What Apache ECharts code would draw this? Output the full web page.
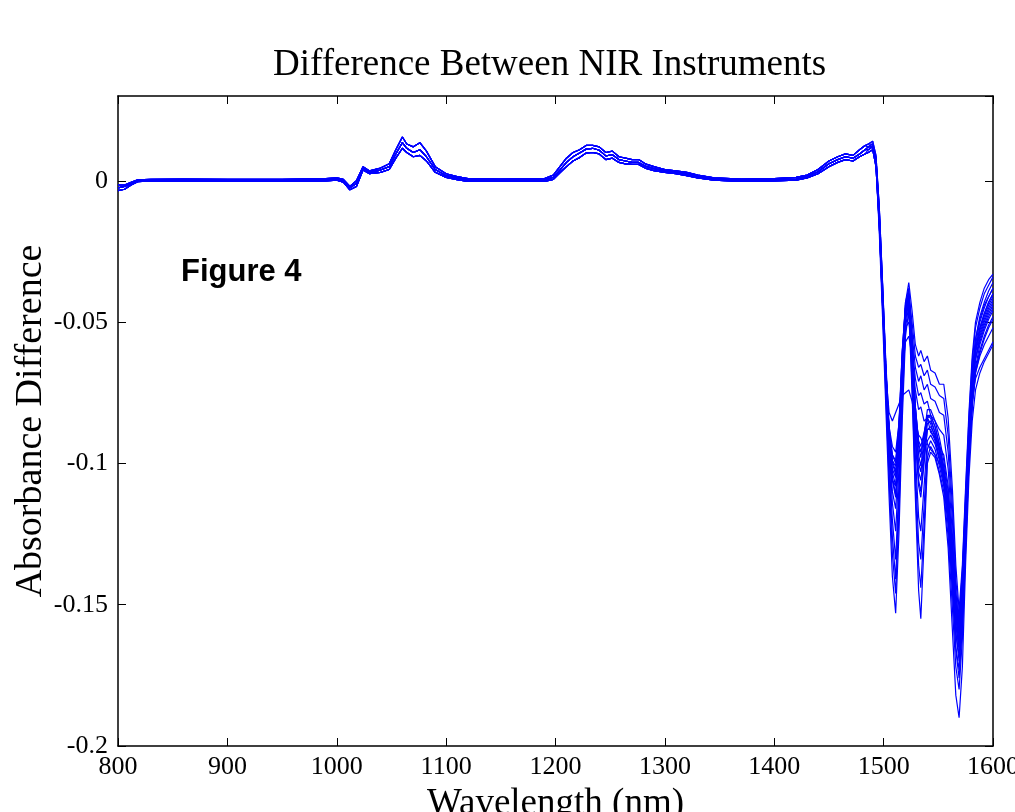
<!DOCTYPE html>
<html>
<head>
<meta charset="utf-8">
<title>Difference Between NIR Instruments</title>
<script src="https://cdn.jsdelivr.net/npm/echarts@6/dist/echarts.min.js"></script>
<style>
  html, body { margin: 0; padding: 0; background: #fff; }
  #chart { width: 1015px; height: 812px; }
</style>
</head>
<body>
<div id="chart"></div>
<script>
// wavelengths (nm) of the flat part, shared by all spectra
var leftW = [800, 806, 812, 818, 830, 860, 900, 950, 990, 1000, 1006, 1012, 1018, 1024, 1030,
  1040, 1048, 1054, 1060, 1064, 1070, 1076, 1082, 1090, 1100, 1110, 1120, 1150, 1190, 1198,
  1204, 1210, 1216, 1222, 1228, 1234, 1240, 1246, 1252, 1258, 1264, 1270, 1276, 1282, 1290,
  1300, 1310, 1320, 1330, 1345, 1370, 1400, 1420, 1430, 1440, 1450, 1458, 1465, 1472, 1478, 1483];

// three readings of the flat part: upper, middle, lower edge of the band
var baseUpper = [-0.0015, -0.0015, -0.0005, 0.0003, 0.0005, 0.0006, 0.0005, 0.0005, 0.0008, 0.001,
  0.0005, -0.002, 0, 0.005, 0.0035, 0.0045, 0.006, 0.011, 0.0155, 0.013,
  0.012, 0.0135, 0.0105, 0.005, 0.0025, 0.0015, 0.0008, 0.0006, 0.0008, 0.002,
  0.005, 0.008, 0.010, 0.011, 0.0125, 0.0125, 0.012, 0.010, 0.0105, 0.0085,
  0.008, 0.0075, 0.0075, 0.006, 0.005, 0.004, 0.0035, 0.003, 0.002, 0.001,
  0.0006, 0.0008, 0.0012, 0.002, 0.004, 0.007, 0.0085, 0.0095, 0.009, 0.011, 0.0125];
var baseMid = [-0.0025, -0.002, -0.001, 0, 0.0002, 0.0002, 0.0002, 0.0001, 0.0004, 0.0006,
  0, -0.0025, -0.001, 0.0045, 0.003, 0.0038, 0.005, 0.0095, 0.0135, 0.0115,
  0.010, 0.011, 0.0085, 0.004, 0.0018, 0.001, 0.0003, 0.0002, 0.0003, 0.0012,
  0.0038, 0.0065, 0.0085, 0.0098, 0.0112, 0.0115, 0.0108, 0.0088, 0.0092, 0.0075,
  0.007, 0.0065, 0.0065, 0.0052, 0.0043, 0.0035, 0.003, 0.0024, 0.0015, 0.0006,
  0.0002, 0.0003, 0.0006, 0.0015, 0.0032, 0.006, 0.0075, 0.0085, 0.008, 0.0095, 0.011];
var baseLower = [-0.0035, -0.003, -0.0015, -0.0003, 0, -0.0002, -0.0002, -0.0002, 0, 0.0002,
  -0.0005, -0.0032, -0.002, 0.0038, 0.0025, 0.003, 0.004, 0.008, 0.0115, 0.010,
  0.0085, 0.009, 0.007, 0.003, 0.0012, 0.0004, -0.0002, -0.0002, -0.0002, 0.0005,
  0.0028, 0.005, 0.007, 0.0082, 0.0098, 0.010, 0.0095, 0.0075, 0.008, 0.0065,
  0.006, 0.0058, 0.0058, 0.0045, 0.0036, 0.003, 0.0025, 0.0018, 0.001, 0.0002,
  -0.0002, 0, 0.0002, 0.001, 0.0025, 0.005, 0.0065, 0.0075, 0.007, 0.0085, 0.0095];

// wavelengths (nm) of the water band region
var tailW = [1486, 1490, 1493, 1496, 1499, 1502, 1505, 1508, 1511, 1514, 1517, 1520,
  1523, 1526, 1529, 1532, 1534, 1537, 1540, 1543, 1547, 1551, 1555, 1559,
  1563, 1566, 1569, 1572, 1575, 1578, 1581, 1584, 1588, 1592, 1596, 1600];

var tail01 = [0.010, 0.011, 0.006, -0.018, -0.048, -0.080, -0.112, -0.140, -0.153, -0.125, -0.085, -0.055, -0.046, -0.075, -0.112, -0.145, -0.155, -0.128, -0.100, -0.096, -0.098, -0.104, -0.112, -0.130, -0.160, -0.182, -0.190, -0.172, -0.135, -0.105, -0.085, -0.074, -0.068, -0.064, -0.061, -0.058];
var tail02 = [0.011, 0.012, 0.007, -0.015, -0.045, -0.076, -0.106, -0.132, -0.146, -0.118, -0.080, -0.052, -0.044, -0.072, -0.108, -0.136, -0.144, -0.122, -0.098, -0.094, -0.097, -0.103, -0.110, -0.126, -0.152, -0.172, -0.180, -0.162, -0.130, -0.100, -0.080, -0.068, -0.061, -0.056, -0.052, -0.049];
var tail03 = [0.012, 0.012, 0.007, -0.014, -0.043, -0.073, -0.102, -0.126, -0.141, -0.112, -0.076, -0.050, -0.042, -0.068, -0.102, -0.128, -0.134, -0.115, -0.095, -0.092, -0.095, -0.101, -0.108, -0.122, -0.146, -0.165, -0.173, -0.155, -0.126, -0.098, -0.078, -0.066, -0.058, -0.053, -0.049, -0.046];
var tail04 = [0.012, 0.013, 0.008, -0.012, -0.040, -0.070, -0.098, -0.120, -0.134, -0.108, -0.072, -0.048, -0.041, -0.065, -0.097, -0.119, -0.124, -0.108, -0.092, -0.090, -0.093, -0.099, -0.106, -0.118, -0.141, -0.160, -0.168, -0.150, -0.122, -0.095, -0.075, -0.063, -0.055, -0.050, -0.046, -0.043];
var tail05 = [0.013, 0.013, 0.008, -0.011, -0.039, -0.068, -0.094, -0.114, -0.124, -0.102, -0.068, -0.046, -0.040, -0.062, -0.092, -0.108, -0.112, -0.100, -0.088, -0.087, -0.090, -0.096, -0.104, -0.116, -0.138, -0.157, -0.166, -0.148, -0.120, -0.093, -0.072, -0.060, -0.052, -0.047, -0.043, -0.040];
var tail06 = [0.011, 0.012, 0.007, -0.013, -0.041, -0.070, -0.094, -0.110, -0.116, -0.098, -0.068, -0.047, -0.041, -0.060, -0.088, -0.103, -0.106, -0.096, -0.086, -0.085, -0.089, -0.095, -0.103, -0.115, -0.136, -0.155, -0.163, -0.146, -0.118, -0.092, -0.072, -0.061, -0.054, -0.049, -0.045, -0.042];
var tail07 = [0.012, 0.013, 0.008, -0.010, -0.037, -0.066, -0.090, -0.105, -0.111, -0.094, -0.065, -0.045, -0.039, -0.058, -0.085, -0.100, -0.103, -0.094, -0.084, -0.083, -0.087, -0.094, -0.102, -0.114, -0.134, -0.152, -0.161, -0.144, -0.116, -0.090, -0.070, -0.058, -0.050, -0.045, -0.041, -0.038];
var tail08 = [0.010, 0.011, 0.005, -0.016, -0.044, -0.072, -0.094, -0.106, -0.108, -0.092, -0.064, -0.046, -0.042, -0.062, -0.090, -0.106, -0.110, -0.098, -0.088, -0.088, -0.092, -0.098, -0.106, -0.118, -0.138, -0.157, -0.165, -0.150, -0.124, -0.098, -0.078, -0.067, -0.060, -0.055, -0.051, -0.048];
var tail09 = [0.012, 0.012, 0.007, -0.012, -0.040, -0.068, -0.090, -0.102, -0.105, -0.090, -0.063, -0.045, -0.040, -0.057, -0.083, -0.097, -0.101, -0.092, -0.083, -0.083, -0.087, -0.093, -0.101, -0.112, -0.131, -0.149, -0.158, -0.142, -0.115, -0.090, -0.071, -0.060, -0.053, -0.048, -0.044, -0.041];
var tail10 = [0.013, 0.014, 0.009, -0.009, -0.036, -0.064, -0.087, -0.099, -0.103, -0.088, -0.061, -0.043, -0.038, -0.055, -0.080, -0.094, -0.098, -0.090, -0.081, -0.081, -0.085, -0.091, -0.099, -0.110, -0.129, -0.147, -0.156, -0.140, -0.113, -0.088, -0.068, -0.056, -0.048, -0.043, -0.039, -0.036];
var tail11 = [0.011, 0.012, 0.006, -0.013, -0.041, -0.068, -0.089, -0.099, -0.101, -0.087, -0.061, -0.044, -0.040, -0.056, -0.080, -0.093, -0.096, -0.090, -0.083, -0.084, -0.089, -0.096, -0.105, -0.118, -0.140, -0.160, -0.170, -0.152, -0.122, -0.094, -0.074, -0.063, -0.056, -0.051, -0.047, -0.044];
var tail12 = [0.010, 0.011, 0.005, -0.015, -0.043, -0.069, -0.088, -0.097, -0.099, -0.086, -0.060, -0.045, -0.041, -0.057, -0.080, -0.092, -0.094, -0.089, -0.084, -0.086, -0.091, -0.098, -0.107, -0.121, -0.145, -0.166, -0.176, -0.158, -0.128, -0.099, -0.079, -0.068, -0.062, -0.058, -0.055, -0.052];
var tail13 = [0.013, 0.014, 0.009, -0.009, -0.036, -0.065, -0.090, -0.106, -0.112, -0.094, -0.064, -0.043, -0.036, -0.046, -0.058, -0.062, -0.060, -0.064, -0.062, -0.067, -0.068, -0.072, -0.072, -0.084, -0.110, -0.136, -0.152, -0.136, -0.108, -0.082, -0.062, -0.050, -0.043, -0.038, -0.035, -0.033];
var tail14 = [0.012, 0.013, 0.008, -0.010, -0.037, -0.066, -0.089, -0.103, -0.108, -0.092, -0.064, -0.045, -0.040, -0.050, -0.062, -0.066, -0.065, -0.069, -0.067, -0.072, -0.073, -0.076, -0.077, -0.090, -0.116, -0.141, -0.155, -0.138, -0.110, -0.084, -0.064, -0.052, -0.045, -0.040, -0.037, -0.034];
var tail15 = [0.012, 0.012, 0.007, -0.012, -0.040, -0.068, -0.089, -0.100, -0.104, -0.090, -0.064, -0.048, -0.044, -0.054, -0.066, -0.071, -0.069, -0.074, -0.072, -0.077, -0.078, -0.082, -0.083, -0.096, -0.121, -0.145, -0.158, -0.141, -0.113, -0.087, -0.067, -0.056, -0.049, -0.044, -0.041, -0.038];
var tail16 = [0.011, 0.012, 0.006, -0.013, -0.041, -0.068, -0.088, -0.097, -0.100, -0.088, -0.065, -0.052, -0.050, -0.058, -0.070, -0.076, -0.075, -0.079, -0.078, -0.083, -0.085, -0.088, -0.090, -0.102, -0.126, -0.149, -0.161, -0.144, -0.116, -0.090, -0.070, -0.059, -0.052, -0.047, -0.043, -0.040];
var tail17 = [0.010, 0.011, 0.005, -0.015, -0.043, -0.069, -0.087, -0.094, -0.096, -0.086, -0.067, -0.057, -0.055, -0.062, -0.074, -0.081, -0.080, -0.085, -0.084, -0.089, -0.091, -0.094, -0.097, -0.108, -0.131, -0.153, -0.164, -0.148, -0.120, -0.094, -0.074, -0.063, -0.057, -0.052, -0.048, -0.045];
var tail18 = [0.010, 0.011, 0.005, -0.016, -0.044, -0.068, -0.082, -0.085, -0.082, -0.079, -0.076, -0.075, -0.074, -0.078, -0.085, -0.090, -0.091, -0.094, -0.093, -0.095, -0.097, -0.100, -0.103, -0.113, -0.133, -0.152, -0.160, -0.146, -0.120, -0.096, -0.078, -0.070, -0.066, -0.063, -0.060, -0.057];

// which flat-part reading each spectrum uses
var spectra = [
  [baseLower, tail01], [baseLower, tail02], [baseMid, tail03], [baseMid, tail04],
  [baseUpper, tail05], [baseMid, tail06], [baseUpper, tail07], [baseLower, tail08],
  [baseMid, tail09], [baseUpper, tail10], [baseMid, tail11], [baseLower, tail12],
  [baseUpper, tail13], [baseUpper, tail14], [baseMid, tail15], [baseMid, tail16],
  [baseLower, tail17], [baseLower, tail18]
];

var xTicks = [800, 900, 1000, 1100, 1200, 1300, 1400, 1500, 1600];

(function() {
  var serif = '"Liberation Serif", "Times New Roman", serif';
  var ink = '#000';
  var lineBlue = '#0000ff';

  var series = spectra.map(function(s, k) {
    var data = leftW.map(function(w, i) { return [w, s[0][i]]; })
      .concat(tailW.map(function(w, i) { return [w, s[1][i]]; }));
    return {
      name: 'spectrum ' + (k + 1),
      type: 'line',
      xAxisIndex: 0,
      yAxisIndex: 0,
      data: data,
      showSymbol: false,
      silent: true,
      lineStyle: { color: lineBlue, width: 1.2 },
      z: 2
    };
  });

  var tickStyle = { inside: true, length: 8, lineStyle: { color: ink, width: 1 } };
  var lineStyle = { show: true, onZero: false, lineStyle: { color: ink, width: 1.5 } };

  var chart = echarts.init(document.getElementById('chart'), null, { renderer: 'canvas' });
  chart.setOption({
    animation: false,
    backgroundColor: '#fff',
    title: {
      text: 'Difference Between NIR Instruments',
      left: 268,
      top: 42,
      textStyle: { fontFamily: serif, fontSize: 37, fontWeight: 'normal', color: ink }
    },
    // labels run past the canvas edge in the original, so keep the grid fixed
    grid: { left: 118, right: 22, top: 96, bottom: 66, containLabel: false, outerBoundsMode: 'none' },
    xAxis: [{
      type: 'value',
      min: xTicks[0],
      max: xTicks[xTicks.length - 1],
      interval: 100,
      position: 'bottom',
      name: 'Wavelength (nm)',
      nameLocation: 'middle',
      nameGap: 40,
      nameMoveOverlap: false,
      nameTextStyle: { fontFamily: serif, fontSize: 37, color: ink },
      axisLine: lineStyle,
      axisTick: tickStyle,
      axisLabel: {
        fontFamily: serif, fontSize: 26, color: ink, margin: 8,
        formatter: function(v) { return String(v); }
      },
      splitLine: { show: false }
    }, {
      type: 'value',
      min: xTicks[0],
      max: xTicks[xTicks.length - 1],
      interval: 100,
      position: 'top',
      axisLine: lineStyle,
      axisTick: tickStyle,
      axisLabel: { show: false },
      splitLine: { show: false }
    }],
    yAxis: [{
      type: 'value',
      min: -0.2,
      max: 0.03,
      interval: 0.05,
      position: 'left',
      name: 'Absorbance Difference',
      nameLocation: 'middle',
      nameGap: 68,
      nameMoveOverlap: false,
      nameTextStyle: { fontFamily: serif, fontSize: 38, color: ink },
      axisLine: lineStyle,
      axisTick: tickStyle,
      axisLabel: {
        fontFamily: serif, fontSize: 26, color: ink, margin: 10,
        showMaxLabel: false,
        formatter: function(v) { return String(+v.toFixed(2)); }
      },
      splitLine: { show: false }
    }, {
      type: 'value',
      min: -0.2,
      max: 0.03,
      interval: 0.05,
      position: 'right',
      axisLine: lineStyle,
      axisTick: tickStyle,
      axisLabel: { show: false },
      splitLine: { show: false }
    }],
    graphic: [{
      type: 'text',
      left: 181,
      top: 257,
      style: {
        text: 'Figure 4',
        font: 'bold 31px "Liberation Sans", Arial, sans-serif',
        fill: ink
      }
    }],
    series: series
  });
})();
</script>
</body>
</html>
